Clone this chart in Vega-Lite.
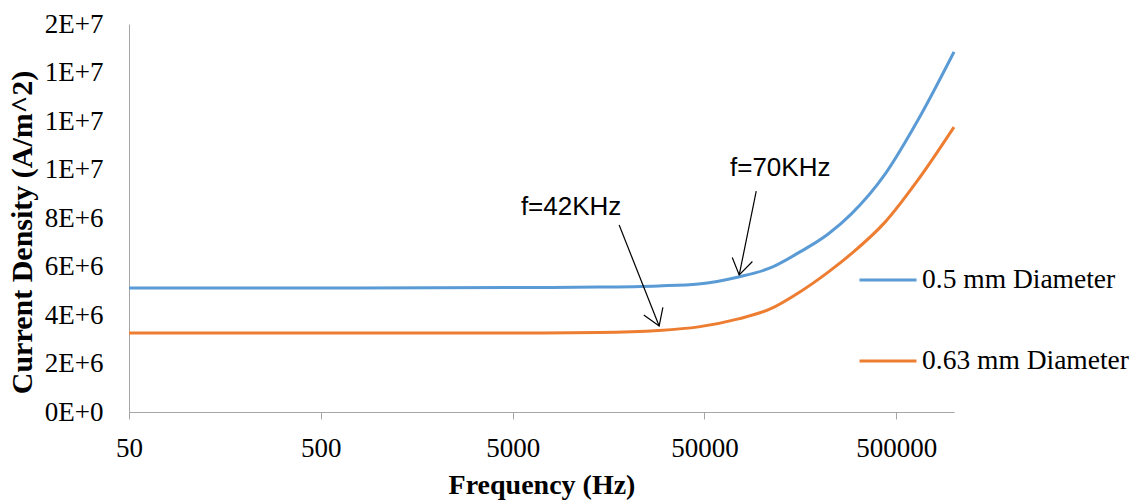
{
  "$schema": "https://vega.github.io/schema/vega-lite/v6.json",
  "width": 825,
  "height": 388,
  "autosize": {"type": "none"},
  "padding": {"left": 129, "top": 24, "right": 184, "bottom": 90},
  "background": "white",
  "config": {
    "view": {"stroke": null},
    "axis": {
      "grid": false,
      "domainColor": "#a6a6a6",
      "tickColor": "#a6a6a6",
      "labelFont": "Liberation Serif",
      "labelFontSize": 27,
      "labelColor": "#000000",
      "titleFont": "Liberation Serif",
      "titleFontSize": 28,
      "titleFontWeight": "bold",
      "titleColor": "#000000"
    }
  },
  "layer": [
    {
      "data": {
        "values": [
          {"frequency": 50, "density": 5110000, "series": "0.5 mm Diameter"},
          {"frequency": 5000, "density": 5130000, "series": "0.5 mm Diameter"},
          {"frequency": 14000, "density": 5150000, "series": "0.5 mm Diameter"},
          {"frequency": 28850, "density": 5200000, "series": "0.5 mm Diameter"},
          {"frequency": 46560, "density": 5280000, "series": "0.5 mm Diameter"},
          {"frequency": 75200, "density": 5570000, "series": "0.5 mm Diameter"},
          {"frequency": 110150, "density": 5940000, "series": "0.5 mm Diameter"},
          {"frequency": 154250, "density": 6560000, "series": "0.5 mm Diameter"},
          {"frequency": 220900, "density": 7340000, "series": "0.5 mm Diameter"},
          {"frequency": 290900, "density": 8160000, "series": "0.5 mm Diameter"},
          {"frequency": 437200, "density": 9810000, "series": "0.5 mm Diameter"},
          {"frequency": 649000, "density": 12040000, "series": "0.5 mm Diameter"},
          {"frequency": 1000000, "density": 14850000, "series": "0.5 mm Diameter"},
          {"frequency": 50, "density": 3260000, "series": "0.63 mm Diameter"},
          {"frequency": 5000, "density": 3260000, "series": "0.63 mm Diameter"},
          {"frequency": 14000, "density": 3280000, "series": "0.63 mm Diameter"},
          {"frequency": 28850, "density": 3360000, "series": "0.63 mm Diameter"},
          {"frequency": 46560, "density": 3510000, "series": "0.63 mm Diameter"},
          {"frequency": 75200, "density": 3840000, "series": "0.63 mm Diameter"},
          {"frequency": 110150, "density": 4250000, "series": "0.63 mm Diameter"},
          {"frequency": 154250, "density": 4910000, "series": "0.63 mm Diameter"},
          {"frequency": 220900, "density": 5770000, "series": "0.63 mm Diameter"},
          {"frequency": 290900, "density": 6520000, "series": "0.63 mm Diameter"},
          {"frequency": 437200, "density": 7830000, "series": "0.63 mm Diameter"},
          {"frequency": 649000, "density": 9570000, "series": "0.63 mm Diameter"},
          {"frequency": 1000000, "density": 11750000, "series": "0.63 mm Diameter"}
        ]
      },
      "mark": {"type": "line", "strokeWidth": 3, "interpolate": "monotone"},
      "encoding": {
        "x": {
          "field": "frequency",
          "type": "quantitative",
          "scale": {"type": "log", "domain": [50, 1000000], "nice": false},
          "axis": {
            "title": "Frequency (Hz)",
            "values": [50, 500, 5000, 50000, 500000],
            "format": "d",
            "tickSize": 7,
            "labelPadding": 16,
            "titlePadding": 10,
            "labelFlush": false
          }
        },
        "y": {
          "field": "density",
          "type": "quantitative",
          "scale": {"domain": [0, 16000000], "nice": false, "zero": true},
          "axis": {
            "title": "Current Density (A/m^2)",
            "titleFontSize": 30,
            "titleY": 208,
            "values": [0, 2000000, 4000000, 6000000, 8000000, 10000000, 12000000, 14000000, 16000000],
            "labelExpr": "replace(format(datum.value, '.0e'), 'e', 'E')",
            "ticks": false,
            "labelPadding": 26,
            "titlePadding": 7,
            "labelFlush": false
          }
        },
        "color": {
          "field": "series",
          "type": "nominal",
          "scale": {"domain": ["0.5 mm Diameter", "0.63 mm Diameter"], "range": ["#5B9BD5", "#ED7D31"]},
          "legend": {
            "title": null,
            "orient": "none",
            "legendX": 729,
            "legendY": 226,
            "symbolType": "stroke",
            "symbolSize": 3249,
            "symbolStrokeWidth": 3,
            "labelFont": "Liberation Serif",
            "labelFontSize": 27.5,
            "labelColor": "#000000",
            "labelOffset": 4,
            "rowPadding": 37,
            "padding": 0,
            "labelLimit": 300
          }
        }
      }
    },
    {
      "data": {
        "values": [
          {"fx": 17960, "vy": 7710000, "fx2": 29030, "vy2": 3550000},
          {"fx": 93100, "vy": 9110000, "fx2": 75900, "vy2": 5650000}
        ]
      },
      "mark": {"type": "rule", "color": "#000000", "strokeWidth": 1.2},
      "encoding": {
        "x": {"field": "fx", "type": "quantitative", "title": "Frequency (Hz)"},
        "y": {"field": "vy", "type": "quantitative", "title": "Current Density (A/m^2)"},
        "x2": {"field": "fx2"},
        "y2": {"field": "vy2"}
      }
    },
    {
      "data": {"values": [{"fx": 29030, "vy": 3550000}]},
      "mark": {"type": "point", "shape": "M-0.65,-1L0,0L0.65,-1", "filled": false, "stroke": "#000000", "strokeWidth": 1.2, "size": 1000, "angle": 338.4, "opacity": 1},
      "encoding": {
        "x": {"field": "fx", "type": "quantitative", "title": "Frequency (Hz)"},
        "y": {"field": "vy", "type": "quantitative", "title": "Current Density (A/m^2)"}
      }
    },
    {
      "data": {"values": [{"fx": 75900, "vy": 5650000}]},
      "mark": {"type": "point", "shape": "M-0.65,-1L0,0L0.65,-1", "filled": false, "stroke": "#000000", "strokeWidth": 1.2, "size": 1000, "angle": 11.4, "opacity": 1},
      "encoding": {
        "x": {"field": "fx", "type": "quantitative", "title": "Frequency (Hz)"},
        "y": {"field": "vy", "type": "quantitative", "title": "Current Density (A/m^2)"}
      }
    },
    {
      "data": {
        "values": [
          {"fx": 10090, "vy": 8450000, "label": "f=42KHz"},
          {"fx": 124150, "vy": 10060000, "label": "f=70KHz"}
        ]
      },
      "mark": {"type": "text", "font": "Liberation Sans", "fontSize": 26, "align": "center", "baseline": "middle", "color": "#000000"},
      "encoding": {
        "x": {"field": "fx", "type": "quantitative", "title": "Frequency (Hz)"},
        "y": {"field": "vy", "type": "quantitative", "title": "Current Density (A/m^2)"},
        "text": {"field": "label"}
      }
    }
  ]
}
